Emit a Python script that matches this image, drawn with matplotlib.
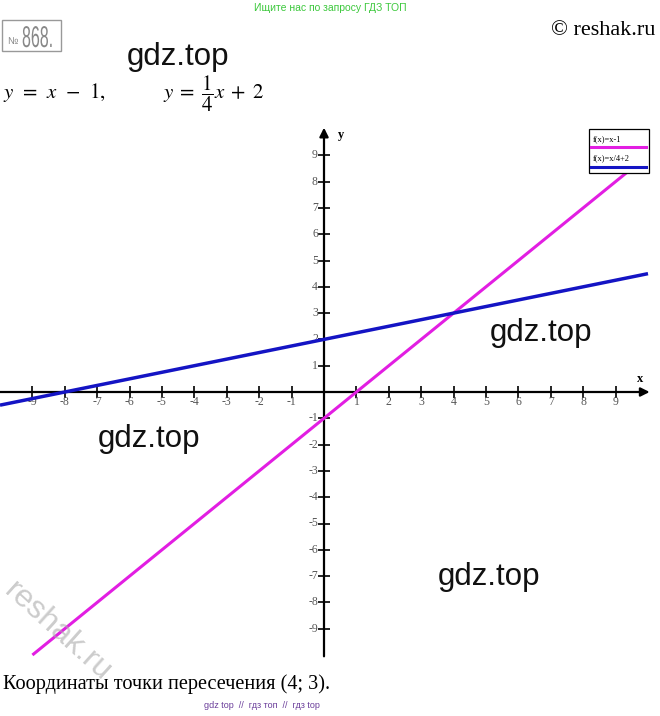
import matplotlib
matplotlib.use('Agg')
import matplotlib.pyplot as plt
from matplotlib.transforms import Affine2D
from matplotlib.patches import Rectangle, PathPatch
from matplotlib.textpath import TextPath
from matplotlib.font_manager import FontProperties

plt.rcParams['mathtext.fontset'] = 'stix'

# graph data
line1_x = [-9, 10]
line1_y = [-10, 9]
line2_x = [-10, 10]
line2_y = [-0.5, 4.5]
x_ticks = [-9, -8, -7, -6, -5, -4, -3, -2, -1, 1, 2, 3, 4, 5, 6, 7, 8, 9]
y_ticks = [-9, -8, -7, -6, -5, -4, -3, -2, -1, 1, 2, 3, 4, 5, 6, 7, 8, 9]
legend_labels = ['f(x)=x-1', 'f(x)=x/4+2']
answer = 'Координаты точки пересечения (4; 3).'

W, H = 660, 716
# origin of the graph in pixels and size of one unit
X0, Y0 = 324, 392
UX, UY = 32.4, 26.3

fig = plt.figure(figsize=(W / 100, H / 100), dpi=100)
ax = fig.add_axes([0, 0, 1, 1])
ax.set_xlim(-X0 / UX, (W - X0) / UX)
ax.set_ylim((Y0 - H) / UY, Y0 / UY)
ax.axis('off')

# pixel coordinates (from top left) for the page decorations
pix = Affine2D().scale(1 / W, -1 / H).translate(0, 1) + fig.transFigure

# axes with arrows
arrow = dict(arrowstyle='-|>', lw=1.6, color='black', mutation_scale=13, shrinkA=0, shrinkB=0)
ax.annotate('', xy=(10.05, 0), xytext=(-10, 0), arrowprops=arrow)
ax.annotate('', xy=(0, 10.05), xytext=(0, -10.05), arrowprops=arrow)

ax.plot(x_ticks, [0] * len(x_ticks), '|', color='black', ms=9, mew=1.2)
ax.plot([0] * len(y_ticks), y_ticks, '_', color='black', ms=9, mew=1.2)

tick_font = dict(family='Liberation Serif', fontsize=8.5, color='#555555')
for t in x_ticks:
    ax.text(t, -10 / UY, str(t), ha='center', va='center', **tick_font)
for t in y_ticks:
    ax.text(-6 / UX, t, str(t), ha='right', va='center', **tick_font)

ax.text(316 / UX, 13 / UY, 'x', ha='center', va='center', family='Liberation Serif',
        fontsize=9, fontweight='bold')
ax.text(17 / UX, 9.77, 'y', ha='center', va='center', family='Liberation Serif',
        fontsize=9, fontweight='bold')

# the two lines
ax.plot(line1_x, line1_y, color='#e21ee2', lw=2.2, solid_capstyle='butt', zorder=3)
ax.plot(line2_x, line2_y, color='#1414c4', lw=2.5, solid_capstyle='butt', zorder=4)

# legend box, drawn by hand
ax.add_patch(Rectangle((589, 129), 60, 44, transform=pix, facecolor='white',
                       edgecolor='black', lw=0.9, zorder=10, clip_on=False))
leg_colors = ['#e21ee2', '#1414c4']
for i, (lab, c) in enumerate(zip(legend_labels, leg_colors)):
    ax.text(593, 141 + i * 19, lab, transform=pix, family='Liberation Serif',
            fontsize=6, color='black', zorder=11, va='baseline')
    ax.plot([591, 646], [147 + i * 19.5, 147 + i * 19.5], transform=pix, color=c,
            lw=2.2, zorder=11, clip_on=False)

# header
ax.text(330, 8, 'Ищите нас по запросу ГДЗ ТОП', transform=pix, ha='center', va='center',
        family='Liberation Sans', fontsize=7.5, color='#3cc83c')
ax.text(655, 35, '© reshak.ru', transform=pix, ha='right', va='baseline',
        family='Liberation Serif', fontsize=16)

# task number in a gray box
ax.add_patch(Rectangle((2, 20), 59, 31, transform=pix, facecolor='none',
                       edgecolor='#999999', lw=1, clip_on=False))
ax.text(7, 44, '№', transform=pix, va='baseline', family='Liberation Sans',
        fontsize=7, color='#888888')
num_path = TextPath((0, 0), '868.', size=1, prop=FontProperties(family='Liberation Sans'))
num_tr = Affine2D().scale(16, -30).translate(22, 47) + pix
ax.add_patch(PathPatch(num_path, transform=num_tr, facecolor='#888888', lw=0, clip_on=False))

# the equations
ax.text(3, 98, r'$y\;\,=\;\,x\;\,-\;\,1,$', transform=pix, va='baseline', fontsize=15)
ax.text(163, 98, r'$y\;=\;\dfrac{1}{4}x\;+\;2$', transform=pix, va='baseline', fontsize=15)

# answer and footer
ax.text(3, 689, answer, transform=pix, va='baseline', family='Liberation Serif', fontsize=14.6)
ax.text(262, 705, 'gdz top  //  гдз топ  //  гдз top', transform=pix, ha='center',
        va='center', family='Liberation Sans', fontsize=6.5, color='#6a3d9a')

# watermarks
for (wx, wy) in [(127, 65.5), (490, 340.5), (98, 446.5), (438, 585.5)]:
    ax.text(wx, wy, 'gdz.top', transform=pix, va='baseline', family='Liberation Sans',
            fontsize=22.5, color='#111111', zorder=12)
ax.text(58, 632, 'reshak.ru', transform=pix, ha='center', va='center',
        rotation=-42, rotation_mode='anchor', family='Liberation Sans',
        fontsize=23, color='#aaaaaa', alpha=0.6, zorder=12)

fig.savefig('out.png', dpi=100)
